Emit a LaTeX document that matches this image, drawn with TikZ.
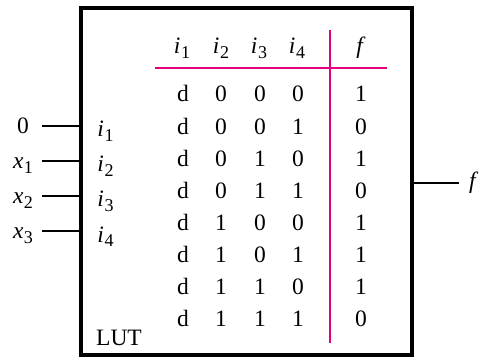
\documentclass[tikz,border=0pt]{standalone}
\usepackage{fontspec}
\setmainfont{Liberation Serif}
\definecolor{pinkline}{HTML}{E5007D}
\newcommand\sbs[2]{\textit{#1}\kern0.5pt\raisebox{-0.42ex}{\fontsize{18}{18}\selectfont #2}}
\begin{document}
\begin{tikzpicture}[x=1pt,y=-1pt,
  txt/.style={inner sep=0pt,anchor=base,font=\fontsize{23.5}{23.5}\selectfont},
  wire/.style={line width=1.6pt},
  rule/.style={pinkline,line width=1.6pt}]
\useasboundingbox (0,0) rectangle (479,358);
\node[draw,line width=4pt,minimum width=331pt,minimum height=347pt,inner sep=0pt] (lut) at (246.5,181.5) {};
% header
\foreach \n/\x in {1/182,2/221,3/259,4/297}{
  \node[txt] (h\n) at (\x,54) {\sbs{i}{\n}};
}
\node[txt] (hf) at (361,54) {\textit{f}};
% rules
\coordinate (hl) at (155,68);
\coordinate (hr) at (387,68);
\coordinate (vt) at (330,30);
\coordinate (vb) at (330,343);
\draw[rule] (hl) -- (hr);
\draw[rule] (vt) -- (vb);
% rows
\foreach \a/\b/\c/\d/\e [count=\k from 0] in {d/0/0/0/1,d/0/0/1/0,d/0/1/0/1,d/0/1/1/0,d/1/0/0/1,d/1/0/1/1,d/1/1/0/1,d/1/1/1/0}{
  \node[txt] (ca\k) at (183,102+32.1*\k) {\a};
  \node[txt] (cb\k) at (221,102+32.1*\k) {\b};
  \node[txt] (cc\k) at (260,102+32.1*\k) {\c};
  \node[txt] (cd\k) at (298,102+32.1*\k) {\d};
  \node[txt] (ce\k) at (361,102+32.1*\k) {\e};
}
% inputs
\foreach \n/\y/\lab in {1/126/0,2/161/\sbs{x}{1},3/196/\sbs{x}{2},4/231/\sbs{x}{3}}{
  \coordinate (in\n) at (42,\y);
  \coordinate (pin\n) at (lut.west |- in\n);
  \draw[wire] (in\n) -- (pin\n);
  \node[txt] (lab\n) at (23,\y+7.5) {\lab};
  \node[txt] (il\n) at (105.5,\y+11) {\sbs{i}{\n}};
}
% output
\coordinate (pout) at (lut.east |- 0,183);
\coordinate (oend) at (459,183);
\draw[wire] (pout) -- (oend);
\node[txt,anchor=base west] (fo) at (469,189) {\textit{f}};
\node[txt] (lutlab) at (119,345) {LUT};
\end{tikzpicture}
\end{document}
